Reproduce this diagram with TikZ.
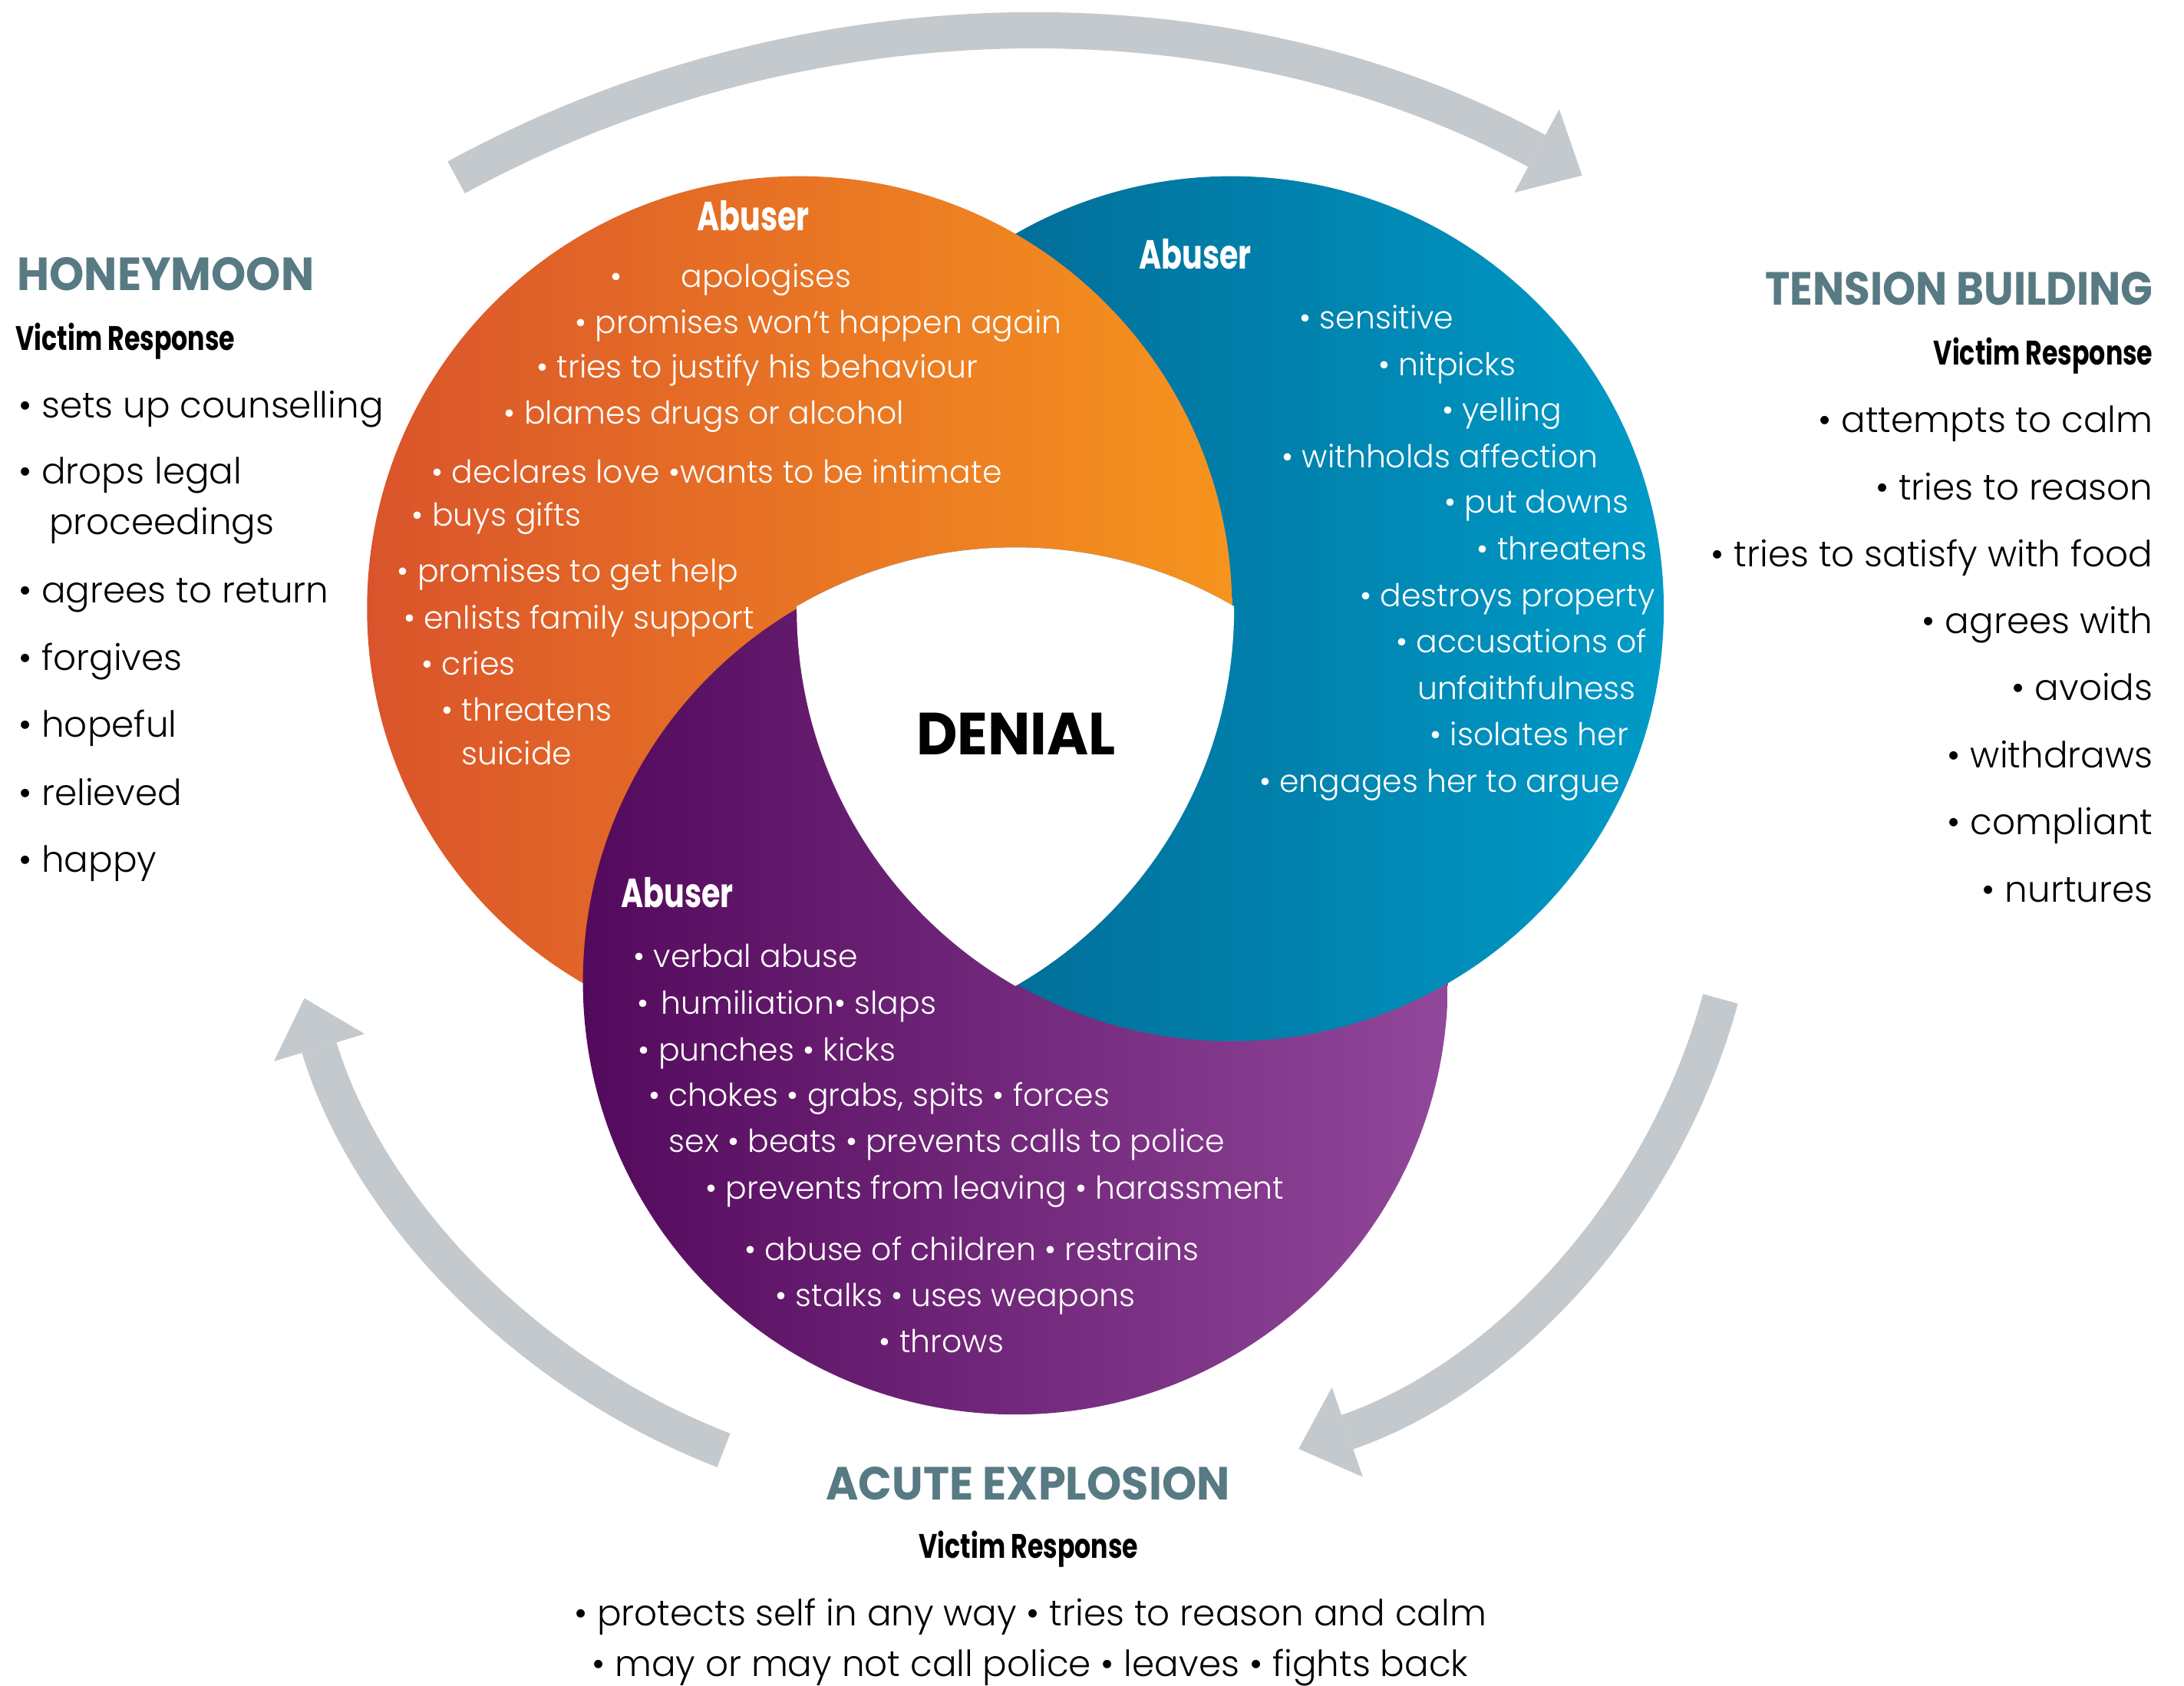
\documentclass[tikz,border=0pt]{standalone}
\usepackage{fontspec}
\IfFontExistsTF{Poppins Light}{\setmainfont{Poppins Light}[BoldFont={Poppins Bold}]}{\setmainfont{Poppins}}
\newfontfamily\narrowfont[FakeStretch=0.75]{Poppins}
\newfontfamily\headfont[FakeStretch=0.95]{Poppins}
\usetikzlibrary{arrows.meta}
\definecolor{arrowgrey}{RGB}{196,201,205}
\definecolor{slate}{RGB}{87,122,131}
\definecolor{orangeL}{RGB}{218,84,43}
\definecolor{orangeR}{RGB}{246,148,30}
\definecolor{blueL}{RGB}{2,96,138}
\definecolor{blueR}{RGB}{0,155,200}
\definecolor{purpleL}{RGB}{84,10,92}
\definecolor{purpleR}{RGB}{146,72,154}

\begin{document}
\begin{tikzpicture}[x=0.02cm, y=-0.02cm,
  phase/.style={inner sep=0pt, text=slate, font=\headfont\bfseries\fontsize{19}{22}\selectfont},
  victim/.style={inner sep=0pt, font=\narrowfont\bfseries\fontsize{13.9}{16}\selectfont},
  sidetext/.style={inner sep=0pt, font=\fontsize{14.7}{18}\selectfont},
  abuser/.style={inner sep=0pt, anchor=base west, text=white, font=\narrowfont\bfseries\fontsize{16.6}{20}\selectfont},
  intext/.style={inner sep=0pt, anchor=base west, text=white, font=\fontsize{12.85}{16}\selectfont},
  cyclearrow/.style={draw=arrowgrey, line width=0.52cm, -{Triangle[length=0.74cm, width=1.36cm, line width=0pt]}}
]
\useasboundingbox (0,0) rectangle (1568,1210);
\coordinate (oc) at (574,437);
\coordinate (bc) at (884,437);
\coordinate (pc) at (729,705);
\coordinate (topc) at (733,871);
\coordinate (leftc) at (701,571);
\coordinate (rightc) at (778,592);

\draw[cyclearrow] (topc) ++(-118.6:847) arc[start angle=-118.6, end angle=-61.6, radius=847];
\draw[cyclearrow] (rightc) ++(15.3:474) arc[start angle=15.3, end angle=71, radius=474];
\draw[cyclearrow] (leftc) ++(111.1:504) arc[start angle=111.1, end angle=163.2, radius=504];

\shade[left color=blueL, right color=blueR] (bc) circle[radius=310.5];
\shade[left color=orangeL, right color=orangeR] (oc) circle[radius=310.5];
\shade[left color=purpleL, right color=purpleR] (pc) circle[radius=310.5];
\begin{scope}
  \clip (pc) circle[radius=312];
  \shade[left color=blueL, right color=blueR] (bc) circle[radius=310.5];
\end{scope}
\begin{scope}
  \clip (oc) circle[radius=312];
  \clip (bc) circle[radius=312];
  \fill[white] (pc) circle[radius=312];
\end{scope}

\node[font=\headfont\bfseries\fontsize{24.3}{28}\selectfont, inner sep=0pt] (denial) at (729.5,527) {DENIAL};

\node[abuser] (hbab) at (500,165.4) {Abuser};
\node[intext] (hb0) at (437.8,206.3) {•\hspace{0.85cm}apologises};
\foreach \x/\y/\txt [count=\i] in {412.5/239.2/{• promises won’t happen again}, 385/271.5/{• tries to justify his behaviour},
  361.5/304.3/{• blames drugs or alcohol}, 309.6/346.7/{• declares love •wants to be intimate}, 295.5/377.5/{• buys gifts},
  285/417.7/{• promises to get help}, 289.5/451.5/{• enlists family support}, 302.5/484.8/{• cries},
  316.8/517.8/{• threatens}, 331/549/{suicide}}
  \node[intext] (hb\i) at (\x,\y) {\txt};

\node[abuser] (tbab) at (817.4,193.2) {Abuser};
\foreach \x/\y/\txt [count=\i] in {932.8/236.3/{• sensitive}, 989.2/269.5/{• nitpicks}, 1035/302.4/{• yelling},
  920/335.6/{• withholds affection}, 1036.7/368.5/{• put downs}, 1060.2/402/{• threatens},
  976.2/435.3/{• destroys property}, 1002/468.5/{• accusations of}, 1017.3/502.2/{unfaithfulness},
  1026.4/535/{• isolates her}, 903.8/568.9/{• engages her to argue}}
  \node[intext] (tb\i) at (\x,\y) {\txt};

\node[abuser] (aeab) at (445.5,651.6) {Abuser};
\foreach \x/\y/\txt [count=\i] in {454.5/694.6/{• verbal abuse}, 457/728.3/{•\hspace{0.18cm}humiliation• slaps},
  458/761.5/{• punches • kicks}, 465.2/794.2/{• chokes • grabs, spits • forces},
  480/827.4/{sex • beats • prevents calls to police}, 506.3/860.6/{• prevents from leaving • harassment},
  534.4/904.9/{• abuse of children • restrains}, 556.5/938.1/{• stalks • uses weapons}, 631/971.3/{• throws}}
  \node[intext] (ae\i) at (\x,\y) {\txt};

\node[phase, anchor=base west] (honeymoon) at (12,208.5) {HONEYMOON};
\node[victim, anchor=base west] (hmvr) at (11,251.5) {Victim Response};
\foreach \y/\txt [count=\i] in {300/{• sets up counselling}, 347.6/{• drops legal}, 432.6/{• agrees to return},
  481/{• forgives}, 529/{• hopeful}, 578/{• relieved}, 626/{• happy}}
  \node[sidetext, anchor=base west] (hm\i) at (13,\y) {\txt};
\node[sidetext, anchor=base west] (hm8) at (35,383.5) {proceedings};

\node[phase, anchor=base east] (tension) at (1546,219) {\scalebox{0.952}[1]{TENSION BUILDING}};
\node[victim, anchor=base east] (tbvr) at (1546,262) {Victim Response};
\foreach \y/\txt [count=\i] in {310.7/{attempts to calm}, 358.7/{tries to reason}, 406.6/{tries to satisfy with food},
  454.6/{agrees with}, 502.6/{avoids}, 551/{withdraws}, 599/{compliant}, 647.5/{nurtures}}
  \node[sidetext, anchor=base east] (tr\i) at (1546,\y) {• \txt};

\node[phase, anchor=base] (acute) at (738,1076.6) {ACUTE EXPLOSION};
\node[victim, anchor=base] (aevr) at (738.5,1118.5) {Victim Response};
\node[sidetext, anchor=base] (av1) at (739.7,1167.2) {• protects self in any way • tries to reason and calm};
\node[sidetext, anchor=base] (av2) at (739.5,1203.8) {• may or may not call police • leaves • fights back};
\end{tikzpicture}
\end{document}
